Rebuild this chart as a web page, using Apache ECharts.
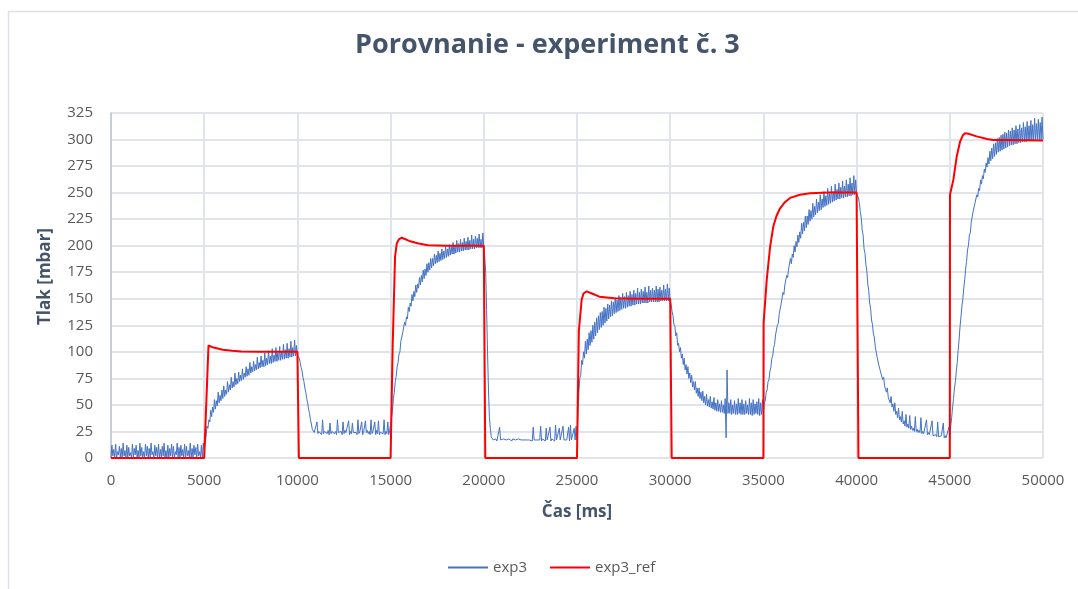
<!DOCTYPE html>
<html>
<head>
<meta charset="utf-8">
<script src="https://cdn.jsdelivr.net/npm/echarts@6/dist/echarts.min.js"></script>
<style>
html,body{margin:0;padding:0;background:#fff;}
#chart{width:1078px;height:589px;}
</style>
</head>
<body>
<div id="chart"></div>
<script>
// ---- data ----
const xTicks = [0,5000,10000,15000,20000,25000,30000,35000,40000,45000,50000];
const yTicks = [0,25,50,75,100,125,150,175,200,225,250,275,300,325];

// exp3 (measured, noisy): lower envelope read every 100 ms (t = 0 ... 50000)
const exp3LowStep = 100;
const exp3Low = [
  // 0-5000
  0,2,1,0,3,1,0,2,1,0,
  2,0,1,3,0,1,2,0,1,2,
  0,1,3,0,2,1,0,1,2,0,
  1,0,2,1,0,3,1,0,2,1,
  0,2,1,0,1,3,0,2,1,0,
  // 5000-10000
  8,20,28,34,39,43,46,49,52,54,
  56,58,60,62,64,66,67,69,70,72,
  73,74,76,77,78,80,81,82,83,84,
  85,86,86,87,88,89,89,90,91,91,
  92,92,93,93,94,94,95,95,96,96,
  // 10000-15000
  97,94,85,76,66,56,46,36,27,24,
  23,23,24,22,23,24,23,22,23,24,
  23,22,24,23,22,23,24,23,22,23,
  24,23,22,23,24,22,23,24,23,22,
  23,24,22,23,22,24,23,22,23,22,
  // 15000-20000
  25,45,62,77,90,100,109,118,125,131,
  138,143,148,152,156,160,163,166,169,172,
  175,177,179,181,183,184,185,186,187,188,
  189,190,191,192,192,193,194,194,195,195,
  196,196,196,197,197,197,198,198,198,198,
  // 20000-25000
  198,175,100,38,20,17,17,16,17,17,
  16,17,17,16,17,16,17,17,16,17,
  17,16,17,17,16,17,16,17,17,16,
  17,16,17,16,17,17,16,17,16,17,
  16,17,16,17,16,17,16,17,16,17,
  // 25000-30000
  17,62,78,88,94,98,102,106,109,112,
  115,118,121,123,125,127,129,131,133,134,
  136,137,138,139,140,141,141,142,143,143,
  144,144,145,145,145,146,146,146,146,147,
  147,147,147,147,147,148,148,148,148,148,
  // 30000-35000
  148,138,126,115,106,100,94,88,83,79,
  75,71,67,64,61,58,56,54,52,50,
  49,48,47,46,45,44,44,43,43,42,
  19,42,42,41,42,41,41,42,41,41,
  41,42,41,41,40,41,42,41,40,41,
  // 35000-40000
  44,54,64,74,85,96,107,117,127,137,
  146,154,162,170,177,183,189,194,199,203,
  207,211,214,217,220,223,225,227,229,231,
  233,234,236,237,238,239,240,241,242,243,
  244,244,245,245,246,246,247,247,248,248,
  // 40000-45000
  249,245,232,215,197,182,164,146,130,117,
  105,95,87,80,74,68,62,57,52,48,
  44,41,38,36,34,32,30,29,28,27,
  26,25,25,24,24,23,23,22,22,22,
  21,21,21,20,20,20,20,19,19,19,
  // 45000-50000
  19,38,56,72,90,112,133,150,168,185,
  200,212,222,231,239,246,252,258,263,269,
  274,277,280,282,284,286,288,289,290,291,
  292,293,294,295,295,296,296,297,297,298,
  298,298,299,299,299,299,300,300,300,300,
  300
];

// exp3 noise peaks read every 100 ms, halfway between the lower-envelope samples (t = 50 ... 49950)
const exp3PeakOffset = 50;
const exp3Peak = [
  // 0-5000
  12,8,13,6,11,9,14,7,12,10,
  5,13,9,12,7,14,10,6,13,11,
  9,14,6,12,10,13,8,11,14,7,
  12,9,13,11,6,14,10,12,8,13,
  11,7,14,9,12,10,13,6,12,14,
  // 5000-10000
  14,30,36,45,48,55,54,62,59,64,
  68,64,72,69,76,72,80,75,81,78,
  84,80,86,84,90,86,91,88,95,90,
  96,92,99,94,101,96,103,97,104,99,
  105,100,107,102,108,103,110,104,111,106,
  // 10000-15000
  98,90,82,72,62,52,42,32,26,25,
  34,25,24,36,25,24,26,33,25,24,
  25,36,24,25,34,26,24,35,25,33,
  25,24,36,25,34,24,35,26,25,36,
  25,34,26,35,24,25,36,25,34,26,
  // 15000-20000
  38,56,72,86,98,110,118,128,133,142,
  146,154,157,163,164,170,172,177,178,183,
  184,188,188,192,191,195,193,197,195,199,
  197,201,199,203,200,205,202,206,203,207,
  204,208,205,210,206,209,207,211,206,212,
  // 20000-25000
  190,140,65,28,19,18,18,17,29,18,
  18,17,18,18,17,18,18,17,18,18,
  18,17,18,18,17,18,29,18,17,18,
  30,18,17,28,18,29,18,17,31,18,
  28,18,30,18,17,29,31,18,28,30,
  // 25000-30000
  45,75,92,100,110,112,118,120,125,128,
  132,134,137,138,142,141,145,144,148,147,
  151,149,153,151,155,152,156,153,157,154,
  158,155,160,156,159,157,161,156,162,158,
  160,158,162,159,161,158,163,159,164,160,
  // 30000-35000
  145,134,124,118,108,104,98,94,88,86,
  80,78,72,72,66,66,62,63,58,60,
  55,58,53,57,52,55,51,54,50,56,
  83,52,55,50,54,51,56,52,55,51,
  54,50,56,52,55,51,53,56,52,55,
  // 35000-40000
  52,62,72,82,94,104,116,125,136,145,
  156,163,172,178,188,192,200,204,210,213,
  221,222,228,228,234,233,240,237,244,241,
  248,244,251,247,254,249,256,251,258,253,
  259,255,261,256,262,258,264,259,266,262,
  // 40000-45000
  250,240,226,210,193,176,158,141,126,114,
  104,94,88,80,76,68,66,58,58,51,
  52,44,47,39,44,35,41,32,40,30,
  28,39,27,26,38,25,24,36,24,23,
  35,22,22,34,21,21,33,21,20,29,
  // 45000-50000
  30,48,66,82,102,124,143,160,178,196,
  210,222,232,240,248,254,262,266,272,278,
  283,289,292,296,297,301,302,304,305,307,
  306,309,308,311,309,313,310,314,311,316,
  312,317,313,318,314,320,315,319,316,321
];

// exp3_ref reference curve (time in ms, value in mbar)
const refTime = [
  0,5000,5230,5500,6000,6500,7000,8000,10000,10080,
  15000,15110,15240,15330,15450,15600,16000,16500,17000,18000,20000,20080,
  25000,25100,25250,25350,25520,25800,26200,27000,28000,30000,30080,
  35000,35010,35180,35360,35530,35700,35890,36150,36430,36960,37500,38500,40000,40100,
  45000,45010,45190,45370,45550,45700,45820,46000,46440,47000,47330,48000,50000
];
const refValue = [
  0,0,106,104,102,101,100.3,100,100,0,
  0,105,190,202,206,207.5,204.5,202,200.5,200,200,0,
  0,120,149,155,157,155,152,150.5,150,150,0,
  0,127,168,199,218,228,235,241,245,248,249.5,250,250,0,
  0,248,262,284,298,304,306,305.5,303,300.5,299.5,299.5,299
];

// ---- build series data (merge lower-envelope samples and peaks in time order) ----
const exp3Data = [];
exp3Low.forEach((v, i) => {
  exp3Data.push([i * exp3LowStep, v]);
  if (i < exp3Peak.length) exp3Data.push([i * exp3LowStep + exp3PeakOffset, exp3Peak[i]]);
});
const refData = refTime.map((t, i) => [t, refValue[i]]);

const chart = echarts.init(document.getElementById('chart'), null, {renderer: 'canvas'});
const txt = '#595959';
const dark = '#44546A';
const fontFam = '"Open Sans", "DejaVu Sans", sans-serif';

chart.setOption({
  animation: false,
  backgroundColor: '#ffffff',
  textStyle: {fontFamily: fontFam},
  graphic: [{
    type: 'rect',
    shape: {x: 8.5, y: 11.5, width: 1100, height: 600},
    style: {fill: 'none', stroke: '#dde1e6', lineWidth: 1.5},
    silent: true
  }],
  title: {
    text: 'Porovnanie - experiment č. 3',
    left: 350,
    top: 27,
    textStyle: {fontSize: 27, fontWeight: 'bold', color: dark, fontFamily: fontFam}
  },
  legend: {
    bottom: 9,
    left: 442,
    itemWidth: 40,
    itemHeight: 14,
    itemGap: 22,
    itemStyle: {opacity: 0},
    textStyle: {fontSize: 15, color: txt, fontFamily: fontFam},
    data: ['exp3', 'exp3_ref']
  },
  grid: {left: 111, right: 35, top: 113, bottom: 131, containLabel: false},
  xAxis: {
    type: 'value',
    min: xTicks[0],
    max: xTicks[xTicks.length - 1],
    interval: xTicks[1] - xTicks[0],
    name: 'Čas [ms]',
    nameLocation: 'middle',
    nameGap: 46,
    nameTextStyle: {fontSize: 17, fontWeight: 'bold', color: dark},
    axisLine: {show: false},
    axisTick: {show: false},
    axisLabel: {fontSize: 15, color: txt, margin: 15, formatter: v => String(v)},
    splitLine: {show: true, lineStyle: {color: '#e1e4ea', width: 2}}
  },
  yAxis: {
    type: 'value',
    min: yTicks[0],
    max: yTicks[yTicks.length - 1],
    interval: yTicks[1] - yTicks[0],
    name: 'Tlak [mbar]',
    nameLocation: 'middle',
    nameGap: 57,
    nameTextStyle: {fontSize: 17, fontWeight: 'bold', color: dark, padding: [0, 0, 0, 18]},
    axisLine: {show: true, lineStyle: {color: '#bcc6d6', width: 1.5}},
    axisTick: {show: false},
    axisLabel: {fontSize: 15, color: txt, margin: 18},
    splitLine: {show: true, lineStyle: {color: '#e1e4ea', width: 2}}
  },
  series: [
    {
      name: 'exp3',
      type: 'line',
      data: exp3Data,
      showSymbol: false,
      symbol: 'none',
      lineStyle: {color: '#4472C4', width: 1},
      itemStyle: {color: '#4472C4'},
      z: 2
    },
    {
      name: 'exp3_ref',
      type: 'line',
      data: refData,
      showSymbol: false,
      symbol: 'none',
      lineStyle: {color: '#FF0000', width: 2},
      itemStyle: {color: '#FF0000'},
      z: 3
    }
  ]
});
</script>
</body>
</html>
